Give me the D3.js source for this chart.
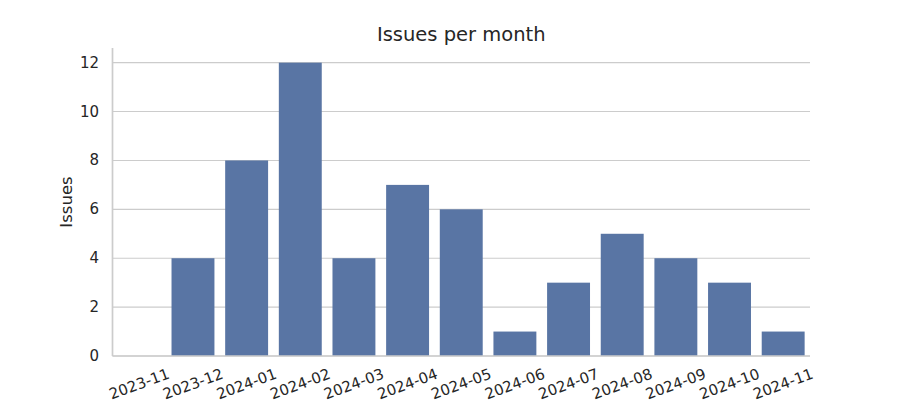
<!DOCTYPE html>
<html>
<head>
<meta charset="utf-8">
<script src="https://cdn.jsdelivr.net/npm/d3@7"></script>
<style>
    body { margin: 0; background: #fff; }
    text { font-family: "DejaVu Sans", sans-serif; fill: #262626; }
</style>
</head>
<body>
<div class="container"></div>
<script>
const months = ['2023-11', '2023-12', '2024-01', '2024-02', '2024-03', '2024-04', '2024-05',
    '2024-06', '2024-07', '2024-08', '2024-09', '2024-10', '2024-11'];
const issues = [0, 4, 8, 12, 4, 7, 6, 1, 3, 5, 4, 3, 1];
const yTicks = [0, 2, 4, 6, 8, 10, 12];

const width = 900;
const height = 400;
const plotLeft = 112.5, plotRight = 810, plotTop = 48, plotBottom = 356;

const svg = d3.select('.container').append('svg').attr('width', width).attr('height', height);

const x = d3.scaleBand().domain(months).range([plotLeft, plotRight]).paddingInner(0.2).paddingOuter(0.1);
const y = d3.scaleLinear().domain([0, d3.max(issues) * 1.05]).range([plotBottom, plotTop]);

// grid
svg.append('g').selectAll('line').data(yTicks).enter().append('line')
    .attr('x1', plotLeft).attr('x2', plotRight)
    .attr('y1', d => y(d)).attr('y2', d => y(d))
    .attr('stroke', '#cccccc').attr('stroke-width', 1.1);

// bars
svg.append('g').selectAll('rect').data(issues).enter().append('rect')
    .attr('x', (d, i) => x(months[i]))
    .attr('y', d => y(d))
    .attr('width', x.bandwidth())
    .attr('height', d => y(0) - y(d))
    .attr('fill', '#5975a4');

// spines
svg.append('line').attr('x1', plotLeft).attr('x2', plotLeft).attr('y1', plotTop).attr('y2', plotBottom)
    .attr('stroke', '#cccccc').attr('stroke-width', 1.7);
svg.append('line').attr('x1', plotLeft).attr('x2', plotRight).attr('y1', plotBottom).attr('y2', plotBottom)
    .attr('stroke', '#cccccc').attr('stroke-width', 1.7);

// y tick labels
svg.append('g').selectAll('text').data(yTicks).enter().append('text')
    .attr('x', 99).attr('y', d => y(d))
    .attr('text-anchor', 'end').attr('dominant-baseline', 'central')
    .style('font-size', '15px')
    .text(d => d);

// x tick labels
svg.append('g').selectAll('text').data(months).enter().append('text')
    .attr('transform', d => `translate(${x(d) + x.bandwidth() / 2},384) rotate(-20)`)
    .attr('text-anchor', 'middle').attr('dominant-baseline', 'central')
    .style('font-size', '15px')
    .text(d => d);

// y label
svg.append('text')
    .attr('transform', `translate(66,${(plotTop + plotBottom) / 2}) rotate(-90)`)
    .attr('text-anchor', 'middle').attr('dominant-baseline', 'central')
    .style('font-size', '16.5px')
    .text('Issues');

// title
svg.append('text')
    .attr('x', (plotLeft + plotRight) / 2).attr('y', 34)
    .attr('text-anchor', 'middle').attr('dominant-baseline', 'central')
    .style('font-size', '19.5px')
    .text('Issues per month');
</script>
</body>
</html>
